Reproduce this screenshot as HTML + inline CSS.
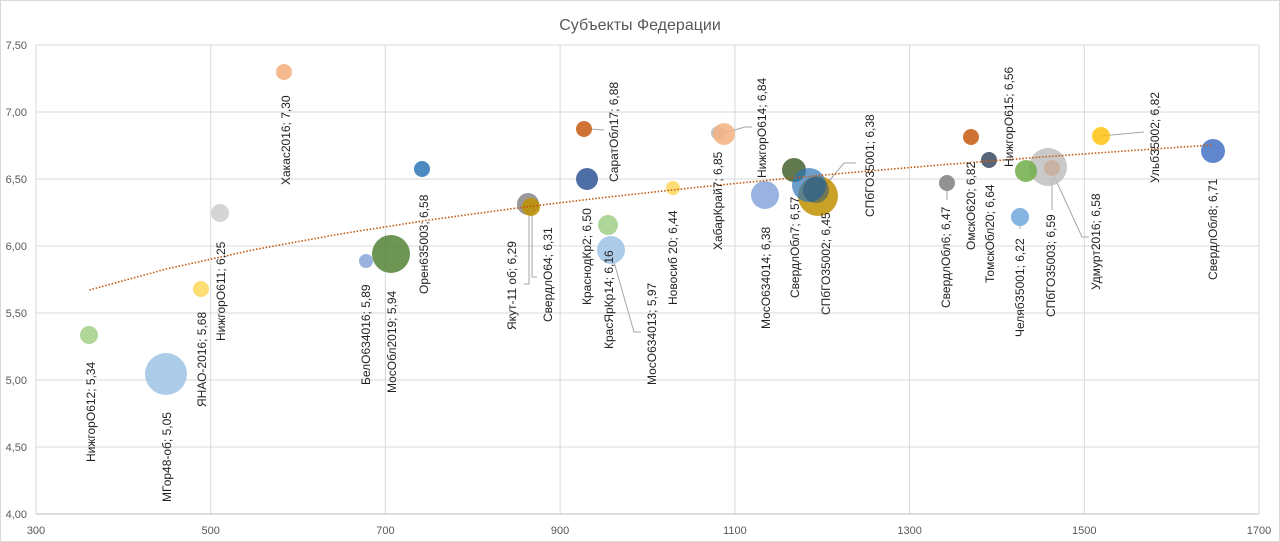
<!DOCTYPE html>
<html><head><meta charset="utf-8"><style>
html,body{margin:0;padding:0;background:#fff;}
svg{display:block;font-family:"Liberation Sans","DejaVu Sans",sans-serif;}
.lb{font-size:12px;fill:#222;}
.ax{font-size:11px;fill:#595959;}
</style></head><body>
<svg width="1280" height="542" viewBox="0 0 1280 542" xmlns="http://www.w3.org/2000/svg">
<rect x="0.5" y="0.5" width="1279" height="541" fill="#fff" stroke="#d9d9d9"/>
<text x="640" y="30" text-anchor="middle" font-size="16" fill="#595959">Субъекты Федерации</text>
<g stroke="#d9d9d9" stroke-width="1">
<line x1="36" y1="45" x2="1259" y2="45"/><line x1="36" y1="112" x2="1259" y2="112"/>
<line x1="36" y1="179" x2="1259" y2="179"/><line x1="36" y1="246" x2="1259" y2="246"/>
<line x1="36" y1="313" x2="1259" y2="313"/><line x1="36" y1="380" x2="1259" y2="380"/>
<line x1="36" y1="447" x2="1259" y2="447"/>
<line x1="210.7" y1="45" x2="210.7" y2="514"/><line x1="385.4" y1="45" x2="385.4" y2="514"/>
<line x1="560.1" y1="45" x2="560.1" y2="514"/><line x1="734.9" y1="45" x2="734.9" y2="514"/>
<line x1="909.6" y1="45" x2="909.6" y2="514"/><line x1="1084.3" y1="45" x2="1084.3" y2="514"/>
<line x1="1259" y1="45" x2="1259" y2="514"/><line x1="36" y1="45" x2="36" y2="514"/>
</g>
<line x1="36" y1="514" x2="1259" y2="514" stroke="#bfbfbf"/>
<g class="ax" text-anchor="end">
<text x="27" y="49">7,50</text><text x="27" y="116">7,00</text><text x="27" y="183">6,50</text>
<text x="27" y="250">6,00</text><text x="27" y="317">5,50</text><text x="27" y="384">5,00</text>
<text x="27" y="451">4,50</text><text x="27" y="518">4,00</text>
</g>
<g class="ax" text-anchor="middle">
<text x="36" y="534">300</text><text x="210.7" y="534">500</text><text x="385.4" y="534">700</text>
<text x="560.1" y="534">900</text><text x="734.9" y="534">1100</text><text x="909.6" y="534">1300</text>
<text x="1084.3" y="534">1500</text><text x="1259" y="534">1700</text>
</g>
<!-- leader lines -->
<g stroke="#a6a6a6" fill="none" stroke-width="1">
<polyline points="590,129 604,130"/>
<polyline points="724,133 745,127 752,127"/>
<polyline points="820,192 844,163 856,163"/>
<polyline points="614,262 634,332 641,332"/>
<polyline points="529,215 529,284 524,284"/>
<polyline points="532,215 532,277 537,277"/>
<polyline points="947,190 947,200"/>
<polyline points="1052,178 1052,210"/>
<polyline points="1054,176 1082,237 1089,237"/>
<polyline points="1101,136 1144,132"/>
<polyline points="1020,226 1020,229"/>
</g>
<!-- bubbles -->
<g>
<circle cx="89" cy="335" r="9" fill="#a9d18e" opacity="0.9"/>
<circle cx="166" cy="374" r="21" fill="#9dc3e6" opacity="0.85"/>
<circle cx="201" cy="289" r="8" fill="#ffd966" opacity="0.9"/>
<circle cx="220" cy="213" r="9" fill="#d0d0d0" opacity="0.9"/>
<circle cx="284" cy="72" r="8" fill="#f4b183" opacity="0.9"/>
<circle cx="366" cy="261" r="7" fill="#8faadc" opacity="0.9"/>
<circle cx="391" cy="254" r="19" fill="#548235" opacity="0.85"/>
<circle cx="422" cy="169" r="8" fill="#2e75b6" opacity="0.85"/>
<circle cx="528" cy="204" r="11" fill="#7f7f7f" opacity="0.8"/>
<circle cx="531" cy="207" r="9" fill="#bf9000" opacity="0.85"/>
<circle cx="587" cy="179" r="11" fill="#2f5597" opacity="0.85"/>
<circle cx="584" cy="129" r="8" fill="#c55a11" opacity="0.85"/>
<circle cx="608" cy="225" r="10" fill="#a9d18e" opacity="0.9"/>
<circle cx="611" cy="250" r="14" fill="#9dc3e6" opacity="0.85"/>
<circle cx="673" cy="188" r="7" fill="#ffd966" opacity="0.9"/>
<circle cx="718" cy="133" r="7" fill="#bfbfbf" opacity="0.9"/>
<circle cx="724" cy="134" r="11" fill="#f4b183" opacity="0.85"/>
<circle cx="765" cy="195" r="14" fill="#8faadc" opacity="0.9"/>
<circle cx="794" cy="170" r="12" fill="#385723" opacity="0.8"/>
<circle cx="818" cy="196" r="20" fill="#bf9000" opacity="0.85"/>
<circle cx="809" cy="185" r="17" fill="#2e75b6" opacity="0.7"/>
<circle cx="816" cy="190" r="13" fill="#1f4e79" opacity="0.5"/>
<circle cx="947" cy="183" r="8" fill="#7f7f7f" opacity="0.85"/>
<circle cx="971" cy="137" r="8" fill="#c55a11" opacity="0.85"/>
<circle cx="989" cy="160" r="8" fill="#44546a" opacity="0.9"/>
<circle cx="1048" cy="167" r="19" fill="#bfbfbf" opacity="0.85"/>
<circle cx="1026" cy="171" r="11" fill="#70ad47" opacity="0.85"/>
<circle cx="1052" cy="168" r="8" fill="#c9ad9a" opacity="0.8"/>
<circle cx="1020" cy="217" r="9" fill="#5b9bd5" opacity="0.75"/>
<circle cx="1101" cy="136" r="9" fill="#ffc000" opacity="0.8"/>
<circle cx="1213" cy="151" r="12" fill="#4472c4" opacity="0.85"/>
</g>
<polyline fill="none" stroke="#c55a11" stroke-width="1.6" stroke-dasharray="1.5 1.8" points="89.3,290 167,268.8 254.4,249.6 341.8,233.7 429.1,220 516.5,208.1 603.8,197.5 691.2,187.9 778.6,179.2 865.9,171.2 953.3,163.9 1040.6,157.1 1128,150.8 1211.9,145"/>
<!-- labels -->
<g class="lb" dominant-baseline="central">
<text transform="translate(91,462) rotate(-90)">НижгорО612; 5,34</text>
<text transform="translate(167,502) rotate(-90)">МГор48-об; 5,05</text>
<text transform="translate(202,407) rotate(-90)">ЯНАО-2016; 5,68</text>
<text transform="translate(221,341) rotate(-90)">НижгорО611; 6,25</text>
<text transform="translate(286,185) rotate(-90)">Хакас2016; 7,30</text>
<text transform="translate(366,385) rotate(-90)">БелО634016; 5,89</text>
<text transform="translate(392,393) rotate(-90)">МосОбл2019; 5,94</text>
<text transform="translate(424,294) rotate(-90)">Орен635003; 6,58</text>
<text transform="translate(512,330) rotate(-90)">Якут-11 об; 6,29</text>
<text transform="translate(548,322) rotate(-90)">СвердлО64; 6,31</text>
<text transform="translate(587,305) rotate(-90)">КраснодКр2; 6,50</text>
<text transform="translate(614,182) rotate(-90)">СаратОбл17; 6,88</text>
<text transform="translate(609,349) rotate(-90)">КрасЯрКр14; 6,16</text>
<text transform="translate(652,385) rotate(-90)">МосО634013; 5,97</text>
<text transform="translate(673,305) rotate(-90)">Новосиб 20; 6,44</text>
<text transform="translate(718,250) rotate(-90)">ХабарКрай7; 6,85</text>
<text transform="translate(762,178) rotate(-90)">НижгорО614; 6,84</text>
<text transform="translate(766,329) rotate(-90)">МосО634014; 6,38</text>
<text transform="translate(795,298) rotate(-90)">СвердлОбл7; 6,57</text>
<text transform="translate(826,315) rotate(-90)">СПбГО35002; 6,45</text>
<text transform="translate(870,217) rotate(-90)">СПбГО35001; 6,38</text>
<text transform="translate(946,308) rotate(-90)">СвердлОбл6; 6,47</text>
<text transform="translate(971,250) rotate(-90)">ОмскО620; 6,82</text>
<text transform="translate(990,283) rotate(-90)">ТомскОбл20; 6,64</text>
<text transform="translate(1009,167) rotate(-90)">НижгорО615; 6,56</text>
<text transform="translate(1020,337) rotate(-90)">ЧелябЗ5001; 6,22</text>
<text transform="translate(1051,317) rotate(-90)">СПбГО35003; 6,59</text>
<text transform="translate(1096,290) rotate(-90)">Удмурт2016; 6,58</text>
<text transform="translate(1155,183) rotate(-90)">УльбЗ5002; 6,82</text>
<text transform="translate(1213,280) rotate(-90)">СвердлОбл8; 6,71</text>
</g>
</svg>
</body></html>
